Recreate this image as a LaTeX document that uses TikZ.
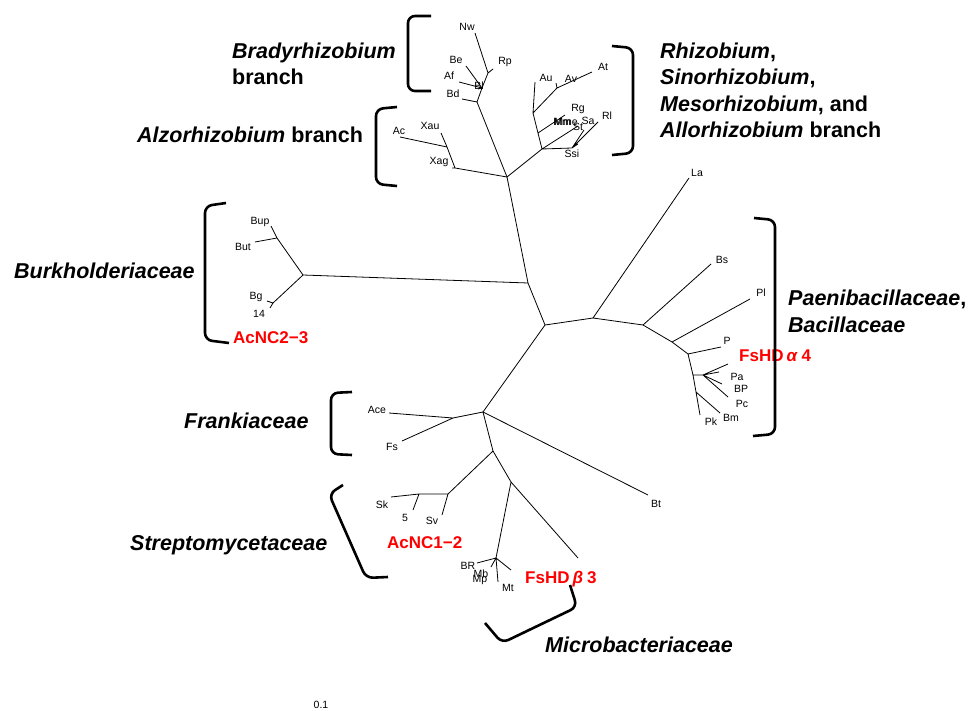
\documentclass[tikz,border=0pt]{standalone}
\usepackage{fontspec}
\setmainfont{Liberation Sans}

\begin{document}
\begin{tikzpicture}[x=1pt, y=-1pt,
  tip/.style={inner sep=0pt, font=\fontsize{10.5}{12}\selectfont},
  family/.style={inner sep=0pt, align=left, anchor=base west,
    font=\fontsize{21.5}{26.5}\selectfont\bfseries},
  isolate/.style={inner sep=0pt, anchor=base west, text=red,
    font=\fontsize{17}{19}\selectfont\bfseries},
  branch/.style={line width=0.8pt},
  brack/.style={line width=2.6pt, rounded corners=7pt}]
\useasboundingbox (0,0) rectangle (971,711);

% inner forks of the tree
\coordinate (root) at (545,325);
\coordinate (n1) at (528,283);
\coordinate (top) at (507,177);
\coordinate (alz) at (455,168);
\coordinate (alz2) at (447,147);
\coordinate (bra) at (477,102);
\coordinate (bra2) at (482,88);
\coordinate (bra3) at (488,73);
\coordinate (rhi) at (542,149);
\coordinate (rhi2) at (538,133);
\coordinate (rhi3) at (533,113);
\coordinate (rhi4) at (557,88);
\coordinate (rhi5) at (572,148);
\coordinate (bur) at (303,275);
\coordinate (bur1) at (277,238);
\coordinate (bur2) at (273,303);
\coordinate (r1) at (593,318);
\coordinate (r2) at (643,325);
\coordinate (r3) at (672,342);
\coordinate (r4) at (688,354);
\coordinate (r5) at (693,375);
\coordinate (r6) at (703,375);
\coordinate (r7) at (696,392);
\coordinate (fra) at (483,412);
\coordinate (fra2) at (453,418);
\coordinate (f1) at (493,451);
\coordinate (str) at (448,494);
\coordinate (str2) at (419,494);
\coordinate (mic0) at (511,482);
\coordinate (mic) at (496,558);

% branch tips
\coordinate (tNw) at (475,33);
\coordinate (tRp) at (493,69);
\coordinate (tBe) at (466,66);
\coordinate (tAf) at (459,82);
\coordinate (tBl) at (478,89);
\coordinate (tBd) at (462,99);
\coordinate (tXau) at (441,133);
\coordinate (tAc) at (400,137);
\coordinate (tXag) at (452,168);
\coordinate (tAu) at (535,82);
\coordinate (tAv) at (556,83);
\coordinate (tAt) at (592,72);
\coordinate (tRg) at (565,115);
\coordinate (tSm) at (578,126);
\coordinate (tSt) at (584,130);
\coordinate (tRl) at (598,122);
\coordinate (tSsi) at (578,144);
\coordinate (tBup) at (271,226);
\coordinate (tBut) at (255,242);
\coordinate (tBg) at (267,301);
\coordinate (t14) at (270,308);
\coordinate (tLa) at (689,178);
\coordinate (tBs) at (711,264);
\coordinate (tPl) at (750,299);
\coordinate (tP) at (721,347);
\coordinate (tPa) at (728,364);
\coordinate (tPa2) at (719,372);
\coordinate (tBP) at (722,384);
\coordinate (tPc) at (728,397);
\coordinate (tBm) at (720,413);
\coordinate (tPk) at (700,415);
\coordinate (tAce) at (389,413);
\coordinate (tFs) at (402,441);
\coordinate (tBt) at (648,495);
\coordinate (tSk) at (391,497);
\coordinate (t5) at (413,510);
\coordinate (tSv) at (442,515);
\coordinate (tFsb) at (578,558);
\coordinate (tBR) at (477,563);
\coordinate (tMb) at (491,567);
\coordinate (tMt) at (498,582);
\coordinate (tM2) at (511,570);

% backbone and clades
\draw[branch] (top) -- (n1) -- (root) -- (fra)
  (n1) -- (bur) (root) -- (r1);
\draw[branch] (top) -- (alz) -- (alz2) -- (tXau) (alz2) -- (tAc)
  (alz) -- (tXag);
\draw[branch] (top) -- (bra) -- (bra2) -- (bra3) -- (tNw)
  (bra3) -- (tRp) (bra2) -- (tBe) (bra2) -- (tAf) (bra2) -- (tBl)
  (bra) -- (tBd);
\draw[branch] (top) -- (rhi) -- (rhi2) -- (rhi3) -- (tAu)
  (rhi3) -- (rhi4) -- (tAt) (rhi4) -- (tAv) (rhi2) -- (tRg)
  (rhi) -- (rhi5) -- (tSt) (rhi5) -- (tRl) (rhi5) -- (tSsi)
  (rhi) -- (tSm);
\draw[branch] (bur) -- (bur1) -- (tBup) (bur1) -- (tBut)
  (bur) -- (bur2) -- (tBg) (bur2) -- (t14);
\draw[branch] (r1) -- (tLa) (r1) -- (r2) -- (tBs) (r2) -- (r3) -- (tPl)
  (r3) -- (r4) -- (tP) (r4) -- (r5) -- (r6) -- (tPa) (r6) -- (tPa2)
  (r6) -- (tBP) (r6) -- (tPc) (r5) -- (r7) -- (tBm) (r7) -- (tPk);
\draw[branch] (fra) -- (fra2) -- (tAce) (fra2) -- (tFs)
  (fra) -- (tBt) (fra) -- (f1) -- (str) -- (str2) -- (tSk)
  (str2) -- (t5) (str) -- (tSv);
\draw[branch] (f1) -- (mic0) -- (tFsb) (mic0) -- (mic) -- (tBR)
  (mic) -- (tMb) (mic) -- (tMt) (mic) -- (tM2);

% tip names
\node[tip] (lNw) at (467,27) {Nw};
\node[tip] (lBe) at (456,60) {Be};
\node[tip] (lRp) at (505,62) {Rp};
\node[tip] (lAf) at (449,76) {Af};
\node[tip] (lBl) at (479,86) {Bl};
\node[tip] (lBd) at (453,94) {Bd};
\node[tip] (lXau) at (430,126) {Xau};
\node[tip] (lAc) at (399,131) {Ac};
\node[tip] (lXag) at (439,162) {Xag};
\node[tip] (lAu) at (546,78) {Au};
\node[tip] (lAv) at (571,79) {Av};
\node[tip] (lAt) at (603,67) {At};
\node[tip] (lRg) at (578,109) {Rg};
\node[tip] (lMm) at (562,122) {Mm};
\node[tip] (lMme) at (566,122) {Mme};
\node[tip] (lSa) at (588,121) {Sa};
\node[tip] (lSt) at (578,127) {St};
\node[tip] (lSsi) at (572,154) {Ssi};
\node[tip] (lRl) at (607,116) {Rl};
\node[tip] (lBup) at (260,222) {Bup};
\node[tip] (lBut) at (243,247) {But};
\node[tip] (lBg) at (256,297) {Bg};
\node[tip] (l14) at (259,314) {14};
\node[tip] (lLa) at (697,173) {La};
\node[tip] (lBs) at (722,260) {Bs};
\node[tip] (lPl) at (761,293) {Pl};
\node[tip] (lP) at (727,341) {P};
\node[tip] (lPa) at (737,377) {Pa};
\node[tip] (lBP) at (741,389) {BP};
\node[tip] (lPc) at (742,404) {Pc};
\node[tip] (lBm) at (731,418) {Bm};
\node[tip] (lPk) at (711,422) {Pk};
\node[tip] (lAce) at (377,410) {Ace};
\node[tip] (lFs) at (392,447) {Fs};
\node[tip] (lSk) at (382,505) {Sk};
\node[tip] (l5) at (405,518) {5};
\node[tip] (lSv) at (432,521) {Sv};
\node[tip] (lBt) at (656,504) {Bt};
\node[tip] (lBR) at (468,566) {BR};
\node[tip] (lMb) at (481,574) {Mb};
\node[tip] (lMp) at (480,580) {Mp};
\node[tip] (lMt) at (508,588) {Mt};

% red isolates
\node[isolate] (acnc23) at (233,343) {AcNC2−3};
\node[isolate] (fsa4) at (739,361) {FsHD\hspace{3pt}\textit{α}\hspace{4pt}4};
\node[isolate] (acnc12) at (387,548) {AcNC1−2};
\node[isolate] (fsb3) at (525,583) {FsHD\hspace{3pt}\textit{β}\hspace{4pt}3};

% groups (base = last line)
\node[family] (brady) at (232,85) {\textit{Bradyrhizobium}\\branch};
\node[family] (alzo) at (137,143) {\textit{Alzorhizobium} branch};
\node[family] (rhizo) at (660,138) {\textit{Rhizobium},\\\textit{Sinorhizobium},\\\textit{Mesorhizobium}, and\\\textit{Allorhizobium} branch};
\node[family] (burk) at (14,278) {\textit{Burkholderiaceae}};
\node[family] (paeni) at (788,332) {\textit{Paenibacillaceae},\\\textit{Bacillaceae}};
\node[family] (frank) at (184,428) {\textit{Frankiaceae}};
\node[family] (strep) at (130,550) {\textit{Streptomycetaceae}};
\node[family] (micro) at (545,652) {\textit{Microbacteriaceae}};

\draw[brack] (431,16) -- (408,16) -- (408,91) -- (431,91);
\draw[brack] (612,46) -- (633,48) -- (633,153) -- (612,155);
\draw[brack] (397,107) -- (376,109) -- (376,184) -- (397,186);
\draw[brack] (226,203) -- (205,206) -- (205,340) -- (229,343);
\draw[brack] (754,218) -- (775,220) -- (775,434) -- (753,436);
\draw[brack] (352,392) -- (331,393) -- (331,454) -- (352,455);
\draw[brack] (343,485) -- (329,494) -- (366,578) -- (388,577);
\draw[brack] (570,585) -- (577,607) -- (502,643) -- (485,623);

\node[tip] (scale) at (321,705) {0.1};
\end{tikzpicture}
\end{document}
